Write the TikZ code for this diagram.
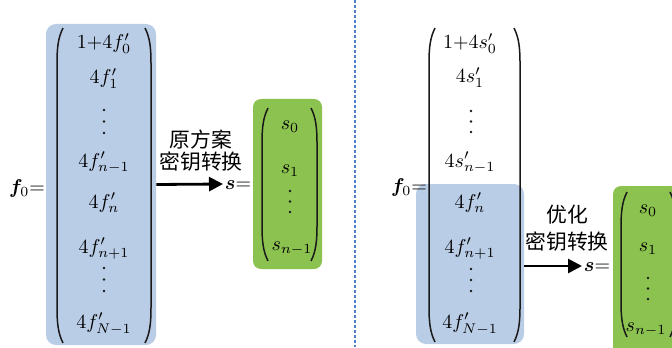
\documentclass[tikz,border=0pt]{standalone}
\usepackage{amsmath,bm}
\usepackage{fontspec}
\newfontfamily\cjk{Noto Sans CJK SC}
\usetikzlibrary{arrows.meta}
\definecolor{boxblue}{HTML}{BACDE6}
\definecolor{boxgreen}{HTML}{8CC350}
\definecolor{sepblue}{HTML}{4F7FC9}
\tikzset{
  ent/.style={anchor=base,inner sep=0pt,font=\fontsize{10}{12}\selectfont},
  lab/.style={inner sep=0pt,font=\cjk\fontsize{10.4}{12}\selectfont},
  bluebox/.style={fill=boxblue,rounded corners=5pt,inner sep=0pt},
  greenbox/.style={fill=boxgreen,rounded corners=4pt,inner sep=0pt},
  parenline/.style={line width=0.75pt,black!90},
  arr/.style={line width=1.4pt,-{Triangle[length=7pt,width=7pt]}},
  vdot/.style={fill=black!90},
  sepline/.style={sepblue,line width=0.9pt,dash pattern=on 1.5pt off 1pt}
}
\newcommand\myparL[3]{\draw[parenline] ({#1+6},#2) .. controls ({#1+1},{#2+10}) and (#1,{#2+20}) .. (#1,{#2+36}) -- (#1,{#3-36}) .. controls (#1,{#3-20}) and ({#1+1},{#3-10}) .. ({#1+6},#3);}
\newcommand\myparR[3]{\draw[parenline] ({#1-6},#2) .. controls ({#1-1},{#2+10}) and (#1,{#2+20}) .. (#1,{#2+36}) -- (#1,{#3-36}) .. controls (#1,{#3-20}) and ({#1-1},{#3-10}) .. ({#1-6},#3);}
\newcommand\mydots[3]{\fill[vdot] (#1,#2) circle[radius=0.7pt] (#1,{(#2+#3)/2}) circle[radius=0.7pt] (#1,#3) circle[radius=0.7pt];}
\begin{document}
\begin{tikzpicture}[x=0.5pt,y=-0.5pt]
\useasboundingbox (0,0) rectangle (672,347);
\clip (0,0) rectangle (672,347);
% separator
\draw[sepline] (355,0) -- (355,347);

% ---------- left panel ----------
\node[bluebox,minimum width=55pt,minimum height=160.5pt] (lb) at (101,184.5) {};
\node[greenbox,minimum width=34.5pt,minimum height=85pt] (lg) at (287.5,184) {};
\myparL{57}{28}{343}
\myparR{151}{28}{343}
\node[ent] (l0) at (104,49) {$1{+}4f'_0$};
\node[ent] (l1) at (104,84) {$4f'_1$};
\mydots{104}{110}{133}
\node[ent] (l2) at (104,167) {$4f'_{n-1}$};
\node[ent] (l3) at (104,208) {$4f'_{n}$};
\node[ent] (l4) at (104,253) {$4f'_{n+1}$};
\mydots{104}{268}{291}
\node[ent] (l5) at (104,328) {$4f'_{N-1}$};
\node[ent] (lf) at (27,193) {$\bm{f}_0{=}$};

\myparL{262}{108}{261}
\myparR{317}{108}{261}
\node[ent] (ls0) at (290,130) {$s_0$};
\node[ent] (ls1) at (290,173) {$s_1$};
\mydots{290}{191}{212}
\node[ent] (ls2) at (292,250) {$s_{n-1}$};
\node[ent] (ls) at (238,189) {$\bm{s}{=}$};

\coordinate (ltip) at (223,184);
\draw[arr] (lb.east) -- (ltip);
\node[lab] (lt1) at (201,140) {原方案};
\node[lab] (lt2) at (201,162) {密钥转换};

% ---------- right panel ----------
\node[bluebox,minimum width=54pt,minimum height=80pt] (rb) at (470,264) {};
\node[greenbox,minimum width=35pt,minimum height=84.5pt] (rg) at (648,270.5) {};
\myparL{621}{192}{337}
\myparR{676}{192}{337}
\myparL{429}{28}{342}
\myparR{520}{28}{342}
\node[ent] (r0) at (470,49) {$1{+}4s'_0$};
\node[ent] (r1) at (470,83) {$4s'_1$};
\mydots{471}{111}{132}
\node[ent] (r2) at (470,167) {$4s'_{n-1}$};
\node[ent] (r3) at (470,208) {$4f'_{n}$};
\node[ent] (r4) at (470,253) {$4f'_{n+1}$};
\mydots{471}{269}{291}
\node[ent] (r5) at (470,328) {$4f'_{N-1}$};
\node[ent] (rf) at (409,192) {$\bm{f}_0{=}$};

\node[ent] (rs0) at (648,213) {$s_0$};
\node[ent] (rs1) at (648,251) {$s_1$};
\mydots{648}{278}{299}
\node[ent] (rs2) at (646,331) {$s_{n-1}$};
\node[ent] (rs) at (597,271) {$\bm{s}{=}$};

\coordinate (rtip) at (582,266);
\draw[arr] (rb.east |- rtip) -- (rtip);
\node[lab] (rt1) at (567,215) {优化};
\node[lab] (rt2) at (567,242) {密钥转换};
\end{tikzpicture}
\end{document}
